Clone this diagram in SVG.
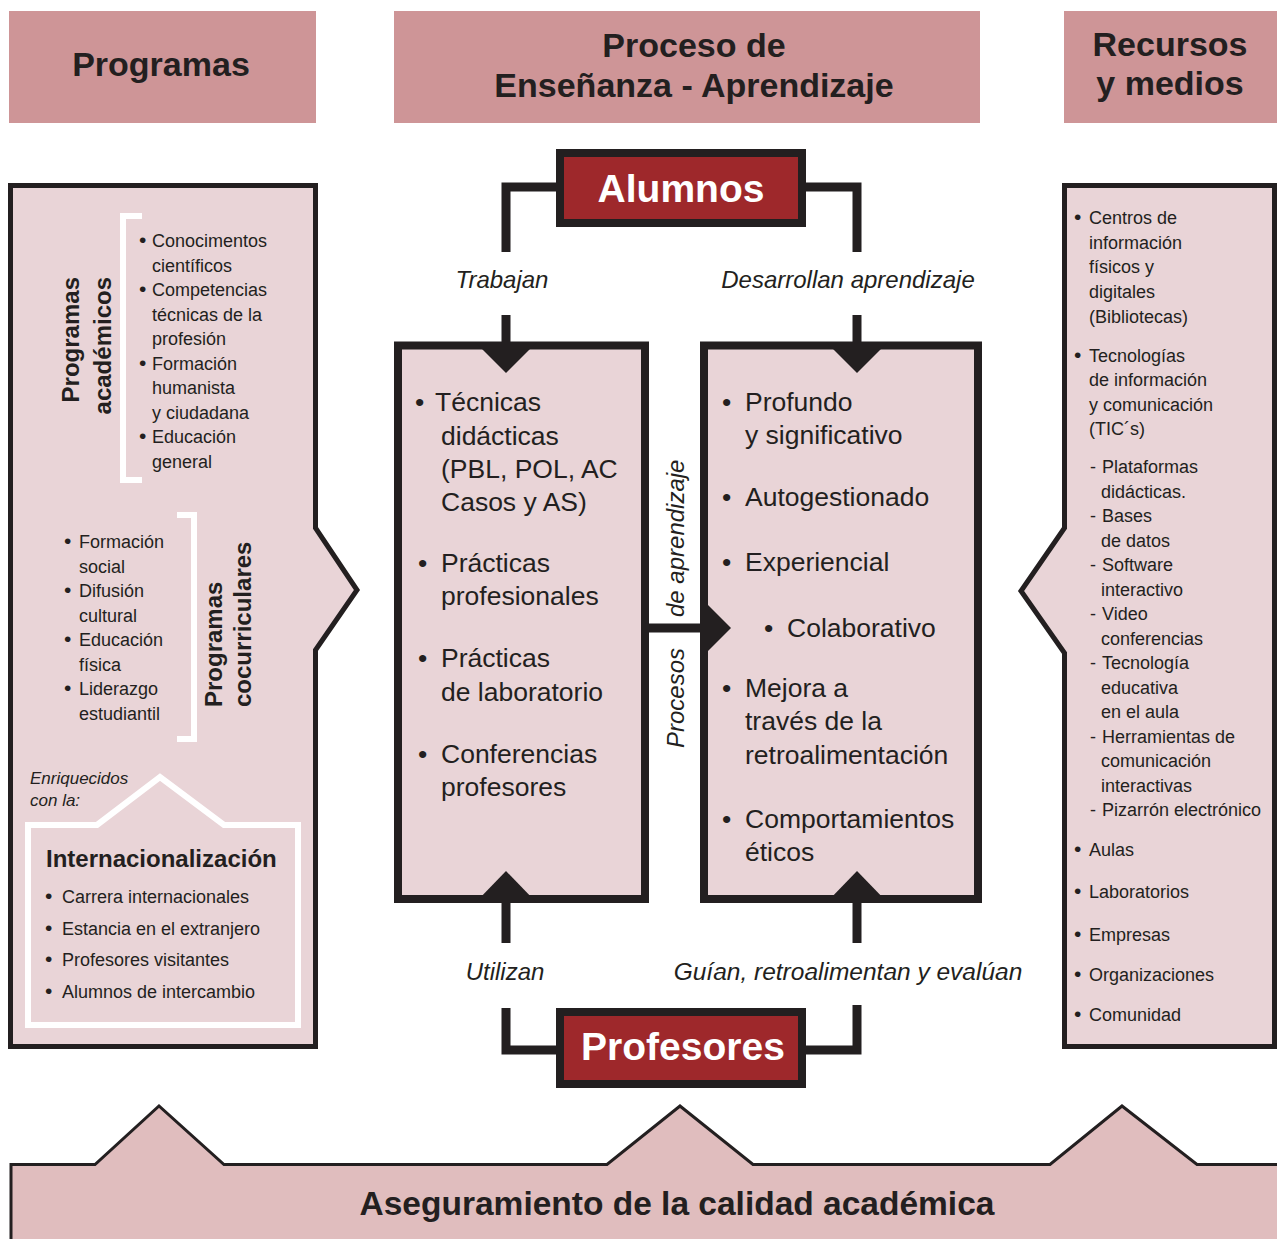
<svg xmlns="http://www.w3.org/2000/svg" width="1277" height="1239" viewBox="0 0 1277 1239">
<style>
text{font-family:"Liberation Sans",Arial,Helvetica,sans-serif;fill:#231F20}
.h{font-size:34px;font-weight:bold;text-anchor:middle}
.s{font-size:18px}
.m{font-size:26.5px}
.i{font-size:24px;font-style:italic;text-anchor:middle}
.vi{font-size:24px;font-style:italic}
.r{font-size:24px;font-weight:bold}
.b{font-size:21px}
.hb{fill:#CE9597}
.pn{fill:#E9D4D7;stroke:#231F20;stroke-width:5}
.bx{fill:#E9D4D7;stroke:#231F20;stroke-width:8}
.wb{fill:none;stroke:#FFFFFF;stroke-width:6}
.ln{fill:none;stroke:#231F20;stroke-width:9}
.ah{fill:#231F20}
.nb{fill:#9E282B;stroke:#231F20;stroke-width:8}
.nm{font-size:39px;font-weight:bold;fill:#FFFFFF;text-anchor:middle}
</style>

<g id="hdr-programas">
<rect class="hb" x="9" y="11" width="307" height="112"/>
<text class="h" x="161" y="76">Programas</text>
</g>
<g id="hdr-proceso">
<rect class="hb" x="394" y="11" width="586" height="112"/>
<text class="h" x="694" y="57">Proceso de</text>
<text class="h" x="694" y="97">Enseñanza - Aprendizaje</text>
</g>
<g id="hdr-recursos">
<rect class="hb" x="1064" y="11" width="213" height="112"/>
<text class="h" x="1170" y="56">Recursos</text>
<text class="h" x="1170" y="95">y medios</text>
</g>

<g id="programas">
<polygon class="pn" points="10.5,185.5 315.5,185.5 315.5,528 357,590 315.5,650 315.5,1046.5 10.5,1046.5"/>
<polyline class="wb" points="142,216 123,216 123,480 142,480"/>
<text class="r" text-anchor="end" transform="translate(79,277) rotate(-90)">Programas</text>
<text class="r" text-anchor="end" transform="translate(110.5,277) rotate(-90)">académicos</text>
<text class="s"><tspan class="b" x="139" y="247">•</tspan><tspan x="152">Conocimentos</tspan></text>
<text class="s" x="152" y="271.5">científicos</text>
<text class="s"><tspan class="b" x="139" y="296">•</tspan><tspan x="152">Competencias</tspan></text>
<text class="s" x="152" y="320.5">técnicas de la</text>
<text class="s" x="152" y="345">profesión</text>
<text class="s"><tspan class="b" x="139" y="369.5">•</tspan><tspan x="152">Formación</tspan></text>
<text class="s" x="152" y="394">humanista</text>
<text class="s" x="152" y="418.5">y ciudadana</text>
<text class="s"><tspan class="b" x="139" y="443">•</tspan><tspan x="152">Educación</tspan></text>
<text class="s" x="152" y="467.5">general</text>

<polyline class="wb" points="177,515 194,515 194,739 177,739"/>
<text class="r" transform="translate(222,707) rotate(-90)">Programas</text>
<text class="r" transform="translate(250.5,707) rotate(-90)">cocurriculares</text>
<text class="s"><tspan class="b" x="64" y="548">•</tspan><tspan x="79">Formación</tspan></text>
<text class="s" x="79" y="572.5">social</text>
<text class="s"><tspan class="b" x="64" y="597">•</tspan><tspan x="79">Difusión</tspan></text>
<text class="s" x="79" y="621.5">cultural</text>
<text class="s"><tspan class="b" x="64" y="646">•</tspan><tspan x="79">Educación</tspan></text>
<text class="s" x="79" y="670.5">física</text>
<text class="s"><tspan class="b" x="64" y="695">•</tspan><tspan x="79">Liderazgo</tspan></text>
<text class="s" x="79" y="719.5">estudiantil</text>

<text font-size="17" font-style="italic" x="30" y="784">Enriquecidos</text>
<text font-size="17" font-style="italic" x="30" y="806">con la:</text>
<polygon class="wb" points="28,825 97,825 160,777 224,825 298,825 298,1025 28,1025"/>
<text class="r" x="46" y="867">Internacionalización</text>
<text class="s"><tspan class="b" x="45" y="903">•</tspan><tspan x="62">Carrera internacionales</tspan></text>
<text class="s"><tspan class="b" x="45" y="935">•</tspan><tspan x="62">Estancia en el extranjero</tspan></text>
<text class="s"><tspan class="b" x="45" y="966">•</tspan><tspan x="62">Profesores visitantes</tspan></text>
<text class="s"><tspan class="b" x="45" y="998">•</tspan><tspan x="62">Alumnos de intercambio</tspan></text>
</g>

<g id="recursos">
<polygon class="pn" points="1064.5,185.5 1274.5,185.5 1274.5,1046.5 1064.5,1046.5 1064.5,653 1021,591 1064.5,528"/>
<text class="s"><tspan class="b" x="1074" y="224">•</tspan><tspan x="1089">Centros de</tspan></text>
<text class="s" x="1089" y="248.7">información</text>
<text class="s" x="1089" y="273.4">físicos y</text>
<text class="s" x="1089" y="298">digitales</text>
<text class="s" x="1089" y="322.7">(Bibliotecas)</text>
<text class="s"><tspan class="b" x="1074" y="361.5">•</tspan><tspan x="1089">Tecnologías</tspan></text>
<text class="s" x="1089" y="386">de información</text>
<text class="s" x="1089" y="410.7">y comunicación</text>
<text class="s" x="1089" y="435.3">(TIC´s)</text>
<text class="s"><tspan x="1090" y="473">-</tspan><tspan x="1102">Plataformas</tspan></text>
<text class="s" x="1101" y="497.5">didácticas.</text>
<text class="s"><tspan x="1090" y="522">-</tspan><tspan x="1102">Bases</tspan></text>
<text class="s" x="1101" y="546.5">de datos</text>
<text class="s"><tspan x="1090" y="571">-</tspan><tspan x="1102">Software</tspan></text>
<text class="s" x="1101" y="595.5">interactivo</text>
<text class="s"><tspan x="1090" y="620">-</tspan><tspan x="1102">Video</tspan></text>
<text class="s" x="1101" y="644.5">conferencias</text>
<text class="s"><tspan x="1090" y="669">-</tspan><tspan x="1102">Tecnología</tspan></text>
<text class="s" x="1101" y="693.5">educativa</text>
<text class="s" x="1101" y="718">en el aula</text>
<text class="s"><tspan x="1090" y="742.5">-</tspan><tspan x="1102">Herramientas de</tspan></text>
<text class="s" x="1101" y="767">comunicación</text>
<text class="s" x="1101" y="791.5">interactivas</text>
<text class="s"><tspan x="1090" y="816">-</tspan><tspan x="1102">Pizarrón electrónico</tspan></text>
<text class="s"><tspan class="b" x="1074" y="855.5">•</tspan><tspan x="1089">Aulas</tspan></text>
<text class="s"><tspan class="b" x="1074" y="897.5">•</tspan><tspan x="1089">Laboratorios</tspan></text>
<text class="s"><tspan class="b" x="1074" y="940.5">•</tspan><tspan x="1089">Empresas</tspan></text>
<text class="s"><tspan class="b" x="1074" y="980.5">•</tspan><tspan x="1089">Organizaciones</tspan></text>
<text class="s"><tspan class="b" x="1074" y="1020.5">•</tspan><tspan x="1089">Comunidad</tspan></text>
</g>

<g id="tecnicas">
<rect class="bx" x="398" y="345.5" width="247" height="553.5"/>
<text class="m"><tspan x="415" y="411">•</tspan><tspan x="435">Técnicas</tspan></text>
<text class="m" x="441" y="445">didácticas</text>
<text class="m" x="441" y="478">(PBL, POL, AC</text>
<text class="m" x="441" y="511">Casos y AS)</text>
<text class="m"><tspan x="418" y="572">•</tspan><tspan x="441">Prácticas</tspan></text>
<text class="m" x="441" y="605">profesionales</text>
<text class="m"><tspan x="418" y="667">•</tspan><tspan x="441">Prácticas</tspan></text>
<text class="m" x="441" y="701">de laboratorio</text>
<text class="m"><tspan x="418" y="763">•</tspan><tspan x="441">Conferencias</tspan></text>
<text class="m" x="441" y="796">profesores</text>
</g>

<g id="aprendizaje">
<rect class="bx" x="704" y="345.5" width="274" height="553.5"/>
<text class="m"><tspan x="722" y="411">•</tspan><tspan x="745">Profundo</tspan></text>
<text class="m" x="745" y="444">y significativo</text>
<text class="m"><tspan x="722" y="506">•</tspan><tspan x="745">Autogestionado</tspan></text>
<text class="m"><tspan x="722" y="571">•</tspan><tspan x="745">Experiencial</tspan></text>
<text class="m"><tspan x="764" y="637">•</tspan><tspan x="787">Colaborativo</tspan></text>
<text class="m"><tspan x="722" y="697">•</tspan><tspan x="745">Mejora a</tspan></text>
<text class="m" x="745" y="730">través de la</text>
<text class="m" x="745" y="764">retroalimentación</text>
<text class="m"><tspan x="722" y="828">•</tspan><tspan x="745">Comportamientos</tspan></text>
<text class="m" x="745" y="861">éticos</text>
</g>

<g id="alumnos">
<rect class="nb" x="560" y="153" width="242" height="70"/>
<text class="nm" x="681" y="202">Alumnos</text>
</g>

<g id="profesores">
<rect class="nb" x="560" y="1012" width="242" height="72"/>
<text class="nm" x="683" y="1060">Profesores</text>
</g>

<g id="connectors">
<polyline class="ln" points="556,187 506,187 506,252"/>
<polyline class="ln" points="806,187 857,187 857,252"/>
<text class="i" x="502" y="288">Trabajan</text>
<text class="i" x="848" y="288">Desarrollan aprendizaje</text>
<line class="ln" x1="506" y1="315" x2="506" y2="345"/>
<polygon class="ah" points="475,342 537,342 506,373"/>
<line class="ln" x1="857" y1="315" x2="857" y2="345"/>
<polygon class="ah" points="826,342 888,342 857,373"/>
<line class="ln" x1="645" y1="628" x2="705" y2="628"/>
<polygon class="ah" points="700,597 731,628 700,659"/>
<text class="vi" transform="translate(684,748) rotate(-90)">Procesos</text>
<text class="vi" transform="translate(684,617) rotate(-90)">de aprendizaje</text>
<line class="ln" x1="506" y1="899" x2="506" y2="943"/>
<polygon class="ah" points="475,903 537,903 506,871"/>
<line class="ln" x1="857" y1="899" x2="857" y2="943"/>
<polygon class="ah" points="826,903 888,903 857,871"/>
<text class="i" x="505" y="980">Utilizan</text>
<text class="i" x="848" y="980" style="font-size:24.5px">Guían, retroalimentan y evalúan</text>
<polyline class="ln" points="506,1008 506,1050 556,1050"/>
<polyline class="ln" points="857,1005 857,1050 806,1050"/>
</g>

<g id="aseguramiento">
<polygon fill="#E0BDBE" stroke="#231F20" stroke-width="3" points="11,1245 11,1164.5 95,1164.5 159,1106 224,1164.5 607,1164.5 680,1106 753,1164.5 1050,1164.5 1122,1106 1197,1164.5 1280,1164.5 1280,1245"/>
<text class="h" x="677" y="1215" style="font-size:33.5px">Aseguramiento de la calidad académica</text>
</g>
</svg>
